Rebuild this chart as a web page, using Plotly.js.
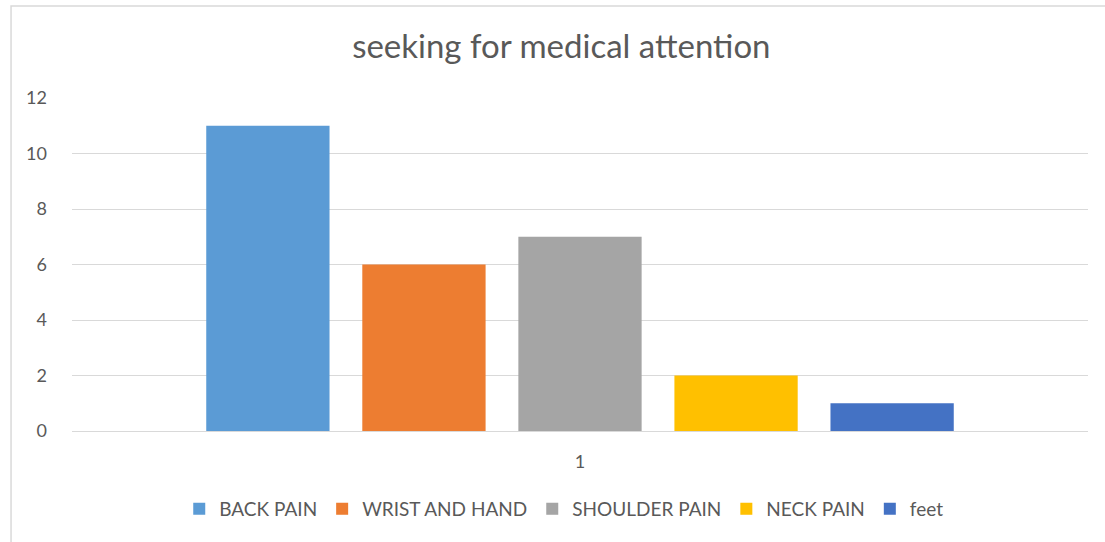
<!DOCTYPE html>
<html>
<head>
<meta charset="utf-8">
<script src="https://cdn.plot.ly/plotly-3.0.1.min.js"></script>
<style>html,body{margin:0;padding:0;background:#fff;}#chart{width:1105px;height:542px;}</style>
</head>
<body>
<div id="chart"></div>
<script>
const categories = ["1"];
const seriesNames = ["BACK PAIN", "WRIST AND HAND", "SHOULDER PAIN", "NECK PAIN", "feet"];
const seriesValues = [[11], [6], [7], [2], [1]];
const seriesColors = ["#5b9bd5", "#ed7d31", "#a5a5a5", "#ffc000", "#4472c4"];
const yTicks = [0, 2, 4, 6, 8, 10, 12];

const font = "Lato, 'Open Sans', sans-serif";
const traces = seriesNames.map((n, i) => ({
  type: "bar",
  name: n,
  x: categories,
  y: seriesValues[i],
  marker: {color: seriesColors[i]},
  hoverinfo: "none"
}));

const layout = {
  width: 1105, height: 542,
  margin: {l: 72, r: 17, t: 98, b: 111},
  paper_bgcolor: "#fff", plot_bgcolor: "#fff",
  barmode: "group", bargap: 0.232, bargroupgap: 0.21,
  title: {text: "seeking for medical attention", font: {family: font, size: 33, color: "#595959"}, x: 0.508, xanchor: "center", y: 0.915, yanchor: "middle"},
  xaxis: {type: "category", showgrid: false, zeroline: false, showline: false, ticks: "", tickfont: {family: font, size: 18, color: "#595959"}, ticklabelstandoff: 18},
  yaxis: {range: [0, 12], tickvals: yTicks, showgrid: true, gridcolor: "#d9d9d9", gridwidth: 1, zeroline: true, zerolinecolor: "#d9d9d9", zerolinewidth: 1, showline: false, ticks: "", tickfont: {family: font, size: 18, color: "#595959"}, ticklabelstandoff: 24},
  showlegend: true,
  legend: {orientation: "h", x: 0.484, xanchor: "center", y: -0.234, yanchor: "middle", font: {family: font, size: 19, color: "#595959"}, itemwidth: 30, traceorder: "normal"},
  shapes: [{type: "rect", xref: "paper", yref: "paper", x0: -0.060, x1: 1.2, y0: -1, y1: 1.276, line: {color: "#d9d9d9", width: 1.5}, fillcolor: "rgba(0,0,0,0)", layer: "below"}]
};

Plotly.newPlot("chart", traces, layout, {displayModeBar: false, staticPlot: true});
</script>
</body>
</html>
